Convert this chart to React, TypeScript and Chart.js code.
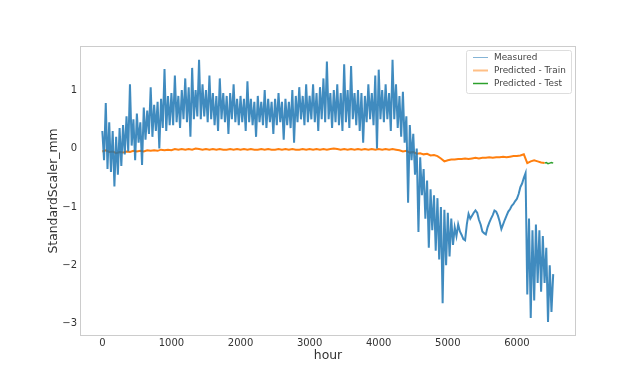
import { useEffect, useRef } from 'react';
import { Chart, registerables } from 'chart.js';

Chart.register(...registerables);

// Measured series: one reading every 25 hours, starting at hour 0
const MEASURED_START = 0;
const MEASURED_STEP = 25;
const MEASURED = [
  // 0 - 975
  0.3, -0.2, 0.78, -0.35, 0.45, -0.4, 0.3, -0.65, 0.2, -0.45,
  0.35, -0.3, 0.4, -0.1, 0.55, -0.05, 1.1, 0.05, 0.5, -0.2,
  0.6, 0.1, 0.45, -0.28, 0.7, 0.15, 0.65, 0.25, 1.05, 0.2,
  0.75, 0.3, 0.8, 0.0, 0.85, 0.35, 1.36, 0.3, 0.9, 0.4,
  // 1000 - 1975
  0.95, 0.4, 1.25, 0.45, 0.9, 0.35, 1.0, 0.5, 1.2, 0.45,
  1.05, 0.2, 1.38, 0.5, 1.0, 0.55, 1.52, 0.5, 1.1, 0.55,
  1.0, 0.45, 1.25, 0.5, 0.95, 0.4, 0.9, 0.3, 1.2, 0.5,
  0.95, 0.45, 0.9, 0.25, 0.95, 0.5, 1.1, 0.45, 0.85, 0.4,
  // 2000 - 2975
  0.9, 0.45, 0.85, 0.3, 1.15, 0.45, 0.85, 0.4, 0.8, 0.2,
  0.9, 0.45, 0.8, 0.4, 1.0, 0.35, 0.85, 0.45, 0.8, 0.25,
  0.85, 0.4, 0.95, 0.45, 0.8, 0.15, 0.85, 0.4, 0.8, 0.35,
  1.0, 0.1, 0.9, 0.45, 1.05, 0.5, 0.9, 0.4, 1.1, 0.45,
  // 3000 - 3975
  0.9, 0.5, 1.1, 0.45, 0.95, 0.3, 1.05, 0.5, 1.2, 0.45,
  1.49, 0.5, 0.95, 0.35, 1.0, 0.45, 1.1, 0.4, 0.95, 0.3,
  1.44, 0.45, 1.0, 0.35, 1.41, 0.5, 0.95, 0.4, 1.0, 0.3,
  0.95, 0.1, 0.9, 0.45, 1.1, 0.5, 0.95, 0.4, 1.25, 0.0,
  // 4000 - 4975
  1.35, 0.5, 1.0, 0.45, 1.1, 0.5, 0.95, 0.3, 1.52, 0.5,
  1.1, 0.35, 0.9, 0.2, 0.97, 0.1, 0.55, -0.93, 0.4, -0.2,
  0.25, -0.45, 0.0, -1.43, -0.15, -0.8, -0.35, -1.2, -0.55, -1.7,
  -0.7, -1.4, -0.8, -1.75, -0.85, -1.9, -1.0, -2.65, -1.05, -2.0,
  // 5000 - 5975
  -1.1, -1.85, -1.2, -1.65, -1.35, -1.5, -1.3, -1.42, -1.48, -1.55,
  -1.57, -1.3, -1.12, -1.2, -1.15, -1.1, -1.06, -1.1, -1.22, -1.3,
  -1.42, -1.45, -1.47, -1.35, -1.27, -1.2, -1.14, -1.06, -1.08, -1.15,
  -1.25, -1.38, -1.3, -1.22, -1.15, -1.08, -1.04, -0.98, -0.95, -0.9,
  // 6000 - 6525
  -0.86, -0.78, -0.66, -0.6, -0.5, -0.42, -2.5, -1.2, -2.9, -1.4,
  -2.6, -1.3, -2.3, -1.4, -2.45, -1.5, -2.3, -1.7, -2.97, -2.0,
  -2.8, -2.15,
];

// Predicted - Train: every 50 hours from hour 0
const TRAIN_START = 0;
const TRAIN_STEP = 50;
const TRAIN = [
  -0.05, -0.03, -0.06, -0.05, -0.08, -0.06, -0.07, -0.05, -0.06, -0.04,
  -0.05, -0.04, -0.05, -0.03, -0.04, -0.03, -0.04, -0.02, -0.03, -0.02,
  -0.03, -0.01, -0.02, -0.01, -0.02, -0.01, -0.02, 0.0, -0.01, -0.02,
  -0.01, -0.02, -0.01, -0.02, -0.01, -0.02, -0.02, -0.01, -0.02, -0.01,
  -0.02, -0.01, -0.02, -0.01, -0.02, -0.02, -0.01, -0.02, -0.01, -0.02,
  -0.02, -0.01, -0.02, -0.01, -0.02, -0.01, -0.02, -0.02, -0.01, -0.02,
  -0.01, -0.02, -0.01, -0.02, -0.01, -0.02, -0.01, 0.0, -0.01, -0.02,
  -0.01, -0.02, -0.01, -0.02, -0.01, -0.02, -0.01, -0.02, -0.01, -0.02,
  -0.01, -0.02, -0.01, -0.02, -0.01, -0.02, -0.03, -0.05, -0.04, -0.07,
  -0.06, -0.09, -0.08, -0.1, -0.09, -0.12, -0.11, -0.13, -0.17, -0.22,
  -0.2, -0.19, -0.19, -0.18, -0.18, -0.17, -0.18, -0.17, -0.16, -0.17,
  -0.16, -0.16, -0.15, -0.16, -0.15, -0.15, -0.14, -0.15, -0.14, -0.13,
  -0.13, -0.12, -0.1, -0.25, -0.22, -0.2, -0.22, -0.24, -0.25,
];

// Predicted - Test: every 25 hours from hour 6400
const TEST_START = 6400;
const TEST_STEP = 25;
const TEST = [-0.25, -0.24, -0.26, -0.25, -0.24, -0.25];

const X_TICKS = [0, 1000, 2000, 3000, 4000, 5000, 6000];
const Y_TICKS = [-3, -2, -1, 0, 1];
const X_RANGE = [-323, 6855];
const Y_RANGE = [-3.21, 1.755];

const LABELS = ['Measured', 'Predicted - Train', 'Predicted - Test'];

const toPoints = (start: number, step: number, vals: number[]) =>
  vals.map((y, i) => ({ x: start + i * step, y }));

const FONT = "'DejaVu Sans', sans-serif";
const TEXT = '#333333';

const framePlugin = {
  id: 'frame',
  afterDatasetsDraw(chart: any) {
    const { ctx, chartArea: a } = chart;
    ctx.save();
    ctx.strokeStyle = '#cccccc';
    ctx.lineWidth = 1;
    ctx.strokeRect(Math.round(a.left) + 0.5, Math.round(a.top) + 0.5, Math.round(a.right - a.left) - 1, Math.round(a.bottom - a.top) - 1);
    ctx.restore();
  },
};

const legendPlugin = {
  id: 'mplLegend',
  afterDraw(chart: any) {
    const { ctx } = chart;
    const x0 = 466, y0 = 50, w = 105, h = 43;
    ctx.save();
    ctx.fillStyle = 'rgba(255,255,255,0.85)';
    ctx.strokeStyle = '#dddddd';
    ctx.lineWidth = 1;
    ctx.beginPath();
    (ctx as any).roundRect ? ctx.roundRect(x0 + 0.5, y0 + 0.5, w, h, 2) : ctx.rect(x0 + 0.5, y0 + 0.5, w, h);
    ctx.fill();
    ctx.stroke();
    const styles = [
      { c: 'rgba(31,119,180,0.55)', w: 1 },
      { c: 'rgba(255,127,14,0.5)', w: 2 },
      { c: '#2ca02c', w: 1.5 },
    ];
    const rows = [57.5, 70.5, 83.5];
    chart.data.datasets.forEach((ds: any, i: number) => {
      ctx.strokeStyle = styles[i].c;
      ctx.lineWidth = styles[i].w;
      ctx.beginPath();
      ctx.moveTo(473, rows[i]);
      ctx.lineTo(488, rows[i]);
      ctx.stroke();
      ctx.fillStyle = '#444444';
      ctx.font = `8.9px ${FONT}`;
      ctx.textBaseline = 'middle';
      ctx.textAlign = 'left';
      ctx.fillText(ds.label, 494, rows[i]);
    });
    ctx.restore();
  },
};

export default function App() {
  const ref = useRef<HTMLCanvasElement | null>(null);

  useEffect(() => {
    document.body.style.margin = '0';
    const canvas = ref.current;
    if (!canvas) return;
    const chart = new Chart(canvas, {
      type: 'line',
      data: {
        datasets: [
          {
            label: LABELS[0],
            data: toPoints(MEASURED_START, MEASURED_STEP, MEASURED),
            borderColor: 'rgba(31,119,180,0.85)',
            borderWidth: 2,
            pointRadius: 0,
            tension: 0,
          },
          {
            label: LABELS[1],
            data: toPoints(TRAIN_START, TRAIN_STEP, TRAIN),
            borderColor: '#ff7f0e',
            borderWidth: 2,
            pointRadius: 0,
            tension: 0,
          },
          {
            label: LABELS[2],
            data: toPoints(TEST_START, TEST_STEP, TEST),
            borderColor: '#2ca02c',
            borderWidth: 1.5,
            pointRadius: 0,
            tension: 0,
          },
        ],
      },
      options: {
        responsive: false,
        animation: false,
        devicePixelRatio: 1,
        layout: { padding: { left: 0, top: 46, right: 64, bottom: 0 } },
        plugins: { legend: { display: false }, tooltip: { enabled: false } },
        scales: {
          x: {
            type: 'linear',
            min: X_RANGE[0],
            max: X_RANGE[1],
            afterBuildTicks: (s: any) => {
              s.ticks = X_TICKS.map((v) => ({ value: v }));
            },
            afterFit: (s: any) => {
              s.height = 48;
            },
            grid: { display: false, drawTicks: false },
            border: { display: false },
            ticks: {
              font: { family: FONT, size: 10 },
              color: TEXT,
              padding: 1,
              maxRotation: 0,
              autoSkip: false,
              callback: (v: any) => String(v),
            },
            title: {
              display: true,
              text: 'hour',
              font: { family: FONT, size: 12.4 },
              color: TEXT,
              padding: { top: 0, bottom: 20.5 },
            },
          },
          y: {
            type: 'linear',
            min: Y_RANGE[0],
            max: Y_RANGE[1],
            afterBuildTicks: (s: any) => {
              s.ticks = Y_TICKS.map((v) => ({ value: v }));
            },
            afterFit: (s: any) => {
              s.width = 80;
            },
            grid: { display: false, drawTicks: false },
            border: { display: false },
            ticks: {
              font: { family: FONT, size: 10 },
              color: TEXT,
              padding: 3,
              autoSkip: false,
              callback: (v: any) => String(v).replace('-', '\u2212'),
            },
            title: {
              display: true,
              text: 'StandardScaler_mm',
              font: { family: FONT, size: 12.4 },
              color: TEXT,
              padding: { top: 46.5, bottom: 0 },
            },
          },
        },
      },
      plugins: [framePlugin, legendPlugin],
    });
    return () => chart.destroy();
  }, []);

  return <canvas ref={ref} width={640} height={384} style={{ display: 'block', width: 640, height: 384 }} />;
}
